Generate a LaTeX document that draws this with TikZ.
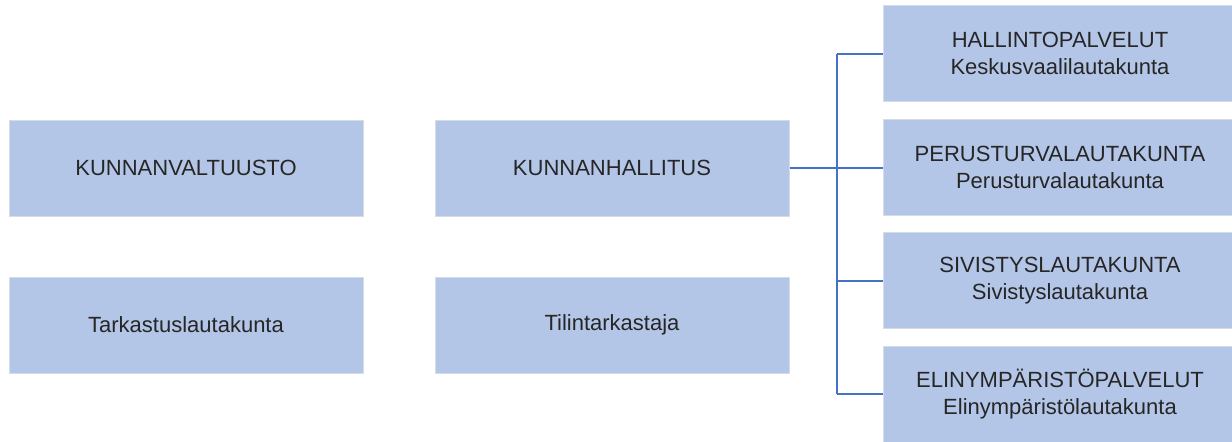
\documentclass[tikz,border=0pt]{standalone}
\usepackage{fontspec}
\setmainfont{Liberation Sans}
\definecolor{boxfill}{HTML}{B4C6E7}
\definecolor{boxedge}{HTML}{D6DCE5}
\definecolor{linkblue}{HTML}{4472C4}
\definecolor{textgray}{HTML}{262626}
\tikzset{
    unit/.style={fill=boxfill, draw=boxedge, line width=0.5pt, text=textgray,
        minimum width=177pt, minimum height=48pt, inner sep=0pt,
        align=center, font=\fontsize{11}{13.5}\selectfont},
    link/.style={draw=linkblue, line width=1pt}
}
\begin{document}
\begin{tikzpicture}[x=0.5pt, y=-0.5pt]

% Page frame
\clip (0,0) rectangle (1232,441);
\fill[white] (0,0) rectangle (1232,441);

% Left and middle columns
\node[unit] (valtuusto) at (186,168) {KUNNANVALTUUSTO};
\node[unit] (tarkastus) at (186,325) {Tarkastuslautakunta};
\node[unit] (hallitus) at (612,168) {KUNNANHALLITUS};
\node[unit] (tilintarkastaja) at (612,325) {Tilintarkastaja};

% Right column
\node[unit] (hallinto) at (1060,53.5) {HALLINTOPALVELUT\\Keskusvaalilautakunta};
\node[unit] (perusturva) at (1060,167.5) {PERUSTURVALAUTAKUNTA\\Perusturvalautakunta};
\node[unit] (sivistys) at (1060,280.5) {SIVISTYSLAUTAKUNTA\\Sivistyslautakunta};
\node[unit] (elinymp) at (1060,394) {ELINYMPÄRISTÖPALVELUT\\Elinympäristölautakunta};

% Connectors
\coordinate (fork) at (837,168);
\draw[link] (hallitus.east) -- (fork);
\draw[link] (fork |- hallinto.west) -- (fork |- elinymp.west);
\foreach \n in {hallinto,perusturva,sivistys,elinymp} {
    \draw[link] (fork |- \n.west) -- (\n.west);
}

\end{tikzpicture}
\end{document}
